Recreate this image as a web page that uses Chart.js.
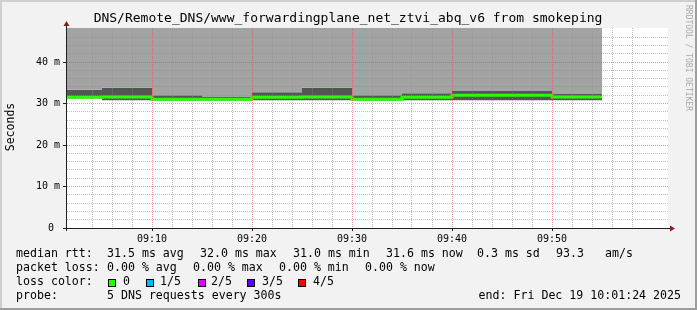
<!DOCTYPE html>
<html>
<head>
<meta charset="utf-8">
<script src="https://cdn.jsdelivr.net/npm/chart.js@4.4.1/dist/chart.umd.min.js"></script>
<style>
    html, body { margin: 0; padding: 0; background: #f2f2f2; overflow: hidden; }
    #wrap { position: relative; width: 697px; height: 310px; }
</style>
</head>
<body>
<div id="wrap"><canvas id="smoke"></canvas></div>
<script>
// minutes after 09:00 at the end of each 300 s step
const stepEnds = [5, 10, 15, 20, 25, 30, 35, 40, 45, 50, 55];
const medianRtt = [31.5, 31.6, 31.0, 31.0, 31.5, 31.6, 31.0, 31.5, 32.0, 32.0, 31.6];
const smokeHigh = [33.3, 33.8, 32.0, 31.6, 32.7, 33.8, 32.0, 32.5, 33.0, 33.0, 32.3];
const smokeLow = [31.2, 30.8, 30.7, 30.7, 30.8, 30.8, 30.7, 30.8, 30.8, 30.8, 30.8];

const graphStart = 1.5;
const graphEnd = 61.6;
const yMax = 48.2;

const xTickLabels = ['09:10', '09:20', '09:30', '09:40', '09:50', '10:00'];
const yTickLabels = ['0 ', '10 m', '20 m', '30 m', '40 m'];

const lossColors = ['#26ff00', '#00b8ff', '#dd00ff', '#5a00ff', '#ff0000'];
const lossLabels = ['0', '1/5', '2/5', '3/5', '4/5'];

const rttStats = ['31.5 ms avg', '32.0 ms max', '31.0 ms min', '31.6 ms now', '0.3 ms sd', '93.3', 'am/s'];
const lossStats = ['0.00 % avg', '0.00 % max', '0.00 % min', '0.00 % now'];

const mono = '"DejaVu Sans Mono", monospace';
const majorGrid = 'rgba(222,79,79,0.6)';
const minorGrid = 'rgba(143,143,143,0.55)';

const onStep = (v, step) => Math.abs(v / step - Math.round(v / step)) < 1e-6;
const isMajor = ctx => ctx.tick && onStep(ctx.tick.value, 10);

// with stepped 'after' each point's value covers the span since the previous point
const toSteps = vals => [{ x: graphStart, y: vals[0] }]
    .concat(stepEnds.map((t, i) => ({ x: t, y: vals[i] })));

const stepLine = (label, vals, extra) => ({
    label,
    data: toSteps(vals),
    stepped: 'after',
    pointRadius: 0,
    borderColor: 'transparent',
    borderWidth: 0,
    ...extra
});

const frame = {
    id: 'frame',
    beforeDraw(chart) {
        const { ctx, width, height, chartArea: a } = chart;
        ctx.save();
        ctx.fillStyle = '#f2f2f2';
        ctx.fillRect(0, 0, width, height);
        ctx.fillStyle = '#cfcfcf';
        ctx.fillRect(0, 0, width, 2);
        ctx.fillRect(0, 0, 2, height);
        ctx.fillStyle = '#9e9e9e';
        ctx.fillRect(0, height - 2, width, 2);
        ctx.fillRect(width - 2, 0, 2, height);
        ctx.fillStyle = '#ffffff';
        ctx.fillRect(a.left, a.top, a.right - a.left, a.bottom - a.top);
        ctx.restore();
    },
    afterDraw(chart) {
        const { ctx, chartArea: a } = chart;
        ctx.save();

        // axes
        ctx.strokeStyle = '#1f1f1f';
        ctx.lineWidth = 1;
        ctx.beginPath();
        ctx.moveTo(a.left - 4, a.bottom + 0.5);
        ctx.lineTo(a.right + 3, a.bottom + 0.5);
        ctx.moveTo(a.left - 0.5, a.bottom + 3);
        ctx.lineTo(a.left - 0.5, a.top - 3);
        ctx.stroke();

        ctx.fillStyle = '#801f1f';
        ctx.beginPath();
        ctx.moveTo(a.left - 0.5, a.top - 7);
        ctx.lineTo(a.left + 2.5, a.top - 2);
        ctx.lineTo(a.left - 3.5, a.top - 2);
        ctx.closePath();
        ctx.fill();
        ctx.beginPath();
        ctx.moveTo(a.right + 7, a.bottom + 0.5);
        ctx.lineTo(a.right + 2, a.bottom - 2.5);
        ctx.lineTo(a.right + 2, a.bottom + 3.5);
        ctx.closePath();
        ctx.fill();

        // title
        ctx.fillStyle = '#000';
        ctx.textBaseline = 'middle';
        ctx.textAlign = 'center';
        ctx.font = '13px ' + mono;
        ctx.fillText('DNS/Remote_DNS/www_forwardingplane_net_ztvi_abq_v6 from smokeping', 348, 19);

        // vertical label
        ctx.font = '11.5px ' + mono;
        ctx.save();
        ctx.translate(11, 127);
        ctx.rotate(-Math.PI / 2);
        ctx.fillText('Seconds', 0, 0);
        ctx.restore();

        // watermark
        ctx.save();
        ctx.fillStyle = '#a9a9a9';
        ctx.font = '8px ' + mono;
        ctx.translate(688, 58);
        ctx.rotate(Math.PI / 2);
        ctx.fillText('RRDTOOL / TOBI OETIKER', 0, 0);
        ctx.restore();

        // legend
        ctx.textAlign = 'left';
        ctx.font = '11.6px ' + mono;
        ctx.fillText('median rtt:', 16, 254);
        [107, 200, 293, 386, 477, 556, 605].forEach((x, i) => ctx.fillText(rttStats[i], x, 254));
        ctx.fillText('packet loss:', 16, 268);
        [107, 193, 279, 365].forEach((x, i) => ctx.fillText(lossStats[i], x, 268));
        ctx.fillText('loss color:', 16, 282);
        const boxX = [108, 146, 198, 247, 298];
        const labelX = [123, 160, 211, 262, 313];
        lossColors.forEach((c, i) => {
            ctx.fillStyle = c;
            ctx.fillRect(boxX[i], 279, 8, 8);
            ctx.strokeStyle = '#000';
            ctx.strokeRect(boxX[i] + 0.5, 279.5, 7, 7);
            ctx.fillStyle = '#000';
            ctx.fillText(lossLabels[i], labelX[i], 282);
        });
        ctx.fillText('probe:', 16, 296);
        ctx.fillText('5 DNS requests every 300s', 107, 296);
        ctx.textAlign = 'right';
        ctx.fillText('end: Fri Dec 19 10:01:24 2025', 681, 296);

        ctx.restore();
    }
};

document.addEventListener('DOMContentLoaded', () => {
    new Chart(document.getElementById('smoke'), {
        type: 'line',
        data: {
            datasets: [
                stepLine('median rtt', medianRtt, { borderColor: lossColors[0], borderWidth: 3, borderCapStyle: 'butt', fill: false }),
                stepLine('smoke high', smokeHigh, { backgroundColor: '#a3a3a3', fill: 'end' }),
                stepLine('smoke low', smokeLow, { backgroundColor: '#555555', fill: '-1' })
            ]
        },
        options: {
            responsive: true,
            maintainAspectRatio: false,
            animation: false,
            layout: { padding: { left: 0, top: 28, right: 29, bottom: 0 } },
            plugins: {
                legend: { display: false },
                tooltip: { enabled: false }
            },
            scales: {
                x: {
                    type: 'linear',
                    position: 'bottom',
                    min: graphStart,
                    max: graphEnd,
                    afterFit: s => { s.height = 82; },
                    afterBuildTicks: s => { s.ticks = s.ticks.filter(t => onStep(t.value, 2)); },
                    ticks: {
                        stepSize: 2, maxTicksLimit: 100, autoSkip: false, maxRotation: 0, padding: 2,
                        color: '#000', font: { family: mono, size: 10 },
                        callback: v => onStep(v, 10) ? xTickLabels[Math.round(v / 10) - 1] : ''
                    },
                    grid: {
                        z: 1, tickLength: 3,
                        color: ctx => isMajor(ctx) ? majorGrid : minorGrid,
                        tickColor: ctx => isMajor(ctx) ? '#1f1f1f' : 'transparent'
                    },
                    border: { display: false, dash: [1, 1] }
                },
                y: {
                    type: 'linear',
                    position: 'left',
                    min: 0,
                    max: yMax,
                    afterFit: s => { s.width = 67; },
                    afterBuildTicks: s => { s.ticks = s.ticks.filter(t => onStep(t.value, 2)); },
                    ticks: {
                        stepSize: 2, maxTicksLimit: 100, autoSkip: false, padding: 3,
                        color: '#000', font: { family: mono, size: 10 },
                        callback: v => onStep(v, 10) ? yTickLabels[Math.round(v / 10)] : ''
                    },
                    grid: {
                        z: 1, tickLength: 4,
                        color: ctx => isMajor(ctx) ? majorGrid : minorGrid,
                        tickColor: ctx => isMajor(ctx) ? '#1f1f1f' : 'transparent'
                    },
                    border: { display: false, dash: [1, 1] }
                }
            }
        },
        plugins: [frame]
    });
});
</script>
</body>
</html>
